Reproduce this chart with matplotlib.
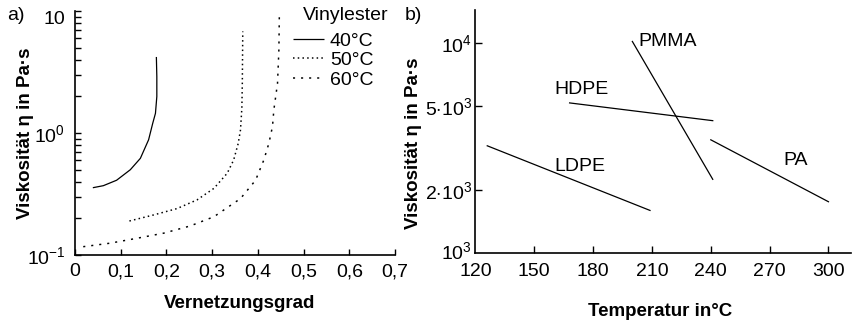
import matplotlib
matplotlib.use("Agg")
import matplotlib.pyplot as plt
import matplotlib.transforms as mtransforms
from matplotlib.ticker import LogLocator, NullFormatter, FixedLocator

plt.rcParams['font.family'] = ['Liberation Sans', 'DejaVu Sans']
plt.rcParams['mathtext.fontset'] = 'custom'
plt.rcParams['mathtext.rm'] = 'Liberation Sans'
plt.rcParams['mathtext.it'] = 'Liberation Sans:italic'
plt.rcParams['mathtext.bf'] = 'Liberation Sans:bold'
plt.rcParams['lines.scale_dashes'] = False

# ---------------- data: panel a) ----------------
x_40 = [0.039, 0.062, 0.091, 0.121, 0.143, 0.161, 0.170, 0.176, 0.179, 0.179, 0.178]
y_40 = [0.356, 0.37, 0.41, 0.50, 0.62, 0.88, 1.2, 1.45, 1.99, 2.9, 4.2]

x_50 = [0.119, 0.172, 0.223, 0.267, 0.304, 0.333, 0.347, 0.357, 0.362, 0.365, 0.366, 0.367]
y_50 = [0.19, 0.213, 0.24, 0.283, 0.352, 0.468, 0.60, 0.82, 1.06, 1.6, 2.55, 6.8]

x_60 = [0.018, 0.077, 0.135, 0.194, 0.252, 0.304, 0.362, 0.395, 0.413, 0.424, 0.432, 0.435, 0.443, 0.446, 0.447]
y_60 = [0.117, 0.125, 0.137, 0.151, 0.173, 0.206, 0.29, 0.41, 0.60, 0.82, 1.13, 1.55, 2.55, 4.8, 9.3]

series_a_labels = ['40°C', '50°C', '60°C']
legend_title = 'Vinylester'
xticks_a = [0, 0.1, 0.2, 0.3, 0.4, 0.5, 0.6, 0.7]
xticklabels_a = ['0', '0,1', '0,2', '0,3', '0,4', '0,5', '0,6', '0,7']
yticks_a = [0.1, 1, 10]
yticklabels_a = [r'$10^{-1}$', r'$10^{0}$', '10']

# ---------------- data: panel b) ----------------
T_pmma = [200, 241]
eta_pmma = [10200, 2250]
T_hdpe = [168, 241]
eta_hdpe = [5200, 4280]
T_ldpe = [126, 209]
eta_ldpe = [3250, 1600]
T_pa = [240, 300]
eta_pa = [3470, 1760]

names_b = ['PMMA', 'HDPE', 'LDPE', 'PA']
name_pos_T = [203, 160, 160, 277]
name_pos_eta = [10140, 6000, 2580, 2780]

xticks_b = [120, 150, 180, 210, 240, 270, 300]
yticks_b = [1000, 2000, 5000, 10000]
yticklabels_b = [r'$10^3$', r'$2{\cdot}10^3$', r'$5{\cdot}10^3$', r'$10^4$']

FS = 14
FSL = 13.5
LW = 0.9

fig = plt.figure(figsize=(8.53, 3.22), dpi=100)

# ---------------- panel a ----------------
ax1 = fig.add_axes([75/853, 1-255/322, 320/853, 244/322])
ax1.plot(x_40, y_40, color='black', lw=LW, solid_capstyle='butt', label=series_a_labels[0])
ax1.plot(x_50, y_50, color='black', lw=LW*1.2, dashes=(1.1, 2.3), label=series_a_labels[1])
ax1.plot(x_60, y_60, color='black', lw=LW*1.2, dashes=(1.5, 4.3), label=series_a_labels[2])
ax1.set_yscale('log')
ax1.set_xlim(0, 0.7)
ax1.set_ylim(0.1, 10)
for s in ['top', 'right']:
    ax1.spines[s].set_visible(False)
for s in ['left', 'bottom']:
    ax1.spines[s].set_linewidth(1.2)
ax1.set_xticks(xticks_a)
ax1.set_xticklabels(xticklabels_a, fontsize=FS)
ax1.yaxis.set_major_locator(FixedLocator(yticks_a))
ax1.set_yticklabels(yticklabels_a, fontsize=FS)
ax1.yaxis.set_minor_locator(LogLocator(base=10, subs=range(2, 10)))
ax1.yaxis.set_minor_formatter(NullFormatter())
ax1.tick_params(axis='both', which='both', direction='in', width=1.0, length=4.5)
ax1.tick_params(axis='y', which='both', pad=7)
ax1.tick_params(axis='x', which='both', pad=6)
for lab in ax1.get_yticklabels():
    if lab.get_text() == '10':
        lab.set_va('top')

leg = ax1.legend(loc='upper left', bbox_to_anchor=(293/853, 1-32/322),
                 bbox_transform=fig.transFigure, frameon=False, fontsize=FS,
                 handlelength=1.6, handletextpad=0.3,
                 labelspacing=0.1, borderpad=0, borderaxespad=0)
fig.text(303/853, 1-15/322, legend_title, fontsize=FS, ha='left', va='center')

fig.text(7/853, 1-15/322, 'a)', fontsize=FS, ha='left', va='center')
fig.text(26/853, 1-133/322, 'Viskosität η in Pa·s', fontsize=FSL, fontweight='bold',
         rotation=90, ha='center', va='center')
fig.text(240/853, 1-304/322, 'Vernetzungsgrad', fontsize=FSL, fontweight='bold',
         ha='center', va='center')

# ---------------- panel b ----------------
ax2 = fig.add_axes([474.5/853, 1-253.3/322, (851-474.5)/853, 243.3/322])
for T, eta in [(T_pmma, eta_pmma), (T_hdpe, eta_hdpe), (T_ldpe, eta_ldpe), (T_pa, eta_pa)]:
    ax2.plot(T, eta, color='black', lw=LW)
ax2.set_yscale('log')
ax2.set_xlim(119.5, 311.5)
ax2.set_ylim(1000, 14400)
for s in ['top', 'right']:
    ax2.spines[s].set_visible(False)
for s in ['left', 'bottom']:
    ax2.spines[s].set_linewidth(1.2)
ax2.xaxis.set_major_locator(FixedLocator(xticks_b))
ax2.xaxis.set_minor_locator(FixedLocator([]))
ax2.set_xticklabels([str(v) for v in xticks_b], fontsize=FS)
ax2.yaxis.set_major_locator(FixedLocator(yticks_b))
ax2.set_yticklabels(yticklabels_b, fontsize=FS)
ax2.yaxis.set_minor_locator(FixedLocator([]))
ax2.yaxis.set_minor_formatter(NullFormatter())
ax2.tick_params(axis='both', which='both', direction='in', width=1.0, length=5)
ax2.tick_params(axis='y', pad=2)
ax2.tick_params(axis='x', pad=7)
ax2.xaxis.get_major_ticks()[0].tick1line.set_visible(False)
ax2.yaxis.get_major_ticks()[0].tick1line.set_visible(False)
lab0 = ax2.get_yticklabels()[0]
lab0.set_va('center_baseline')
lab0.set_transform(lab0.get_transform() +
                   mtransforms.ScaledTranslation(0, 3/100, fig.dpi_scale_trans))

for name, T, eta in zip(names_b, name_pos_T, name_pos_eta):
    ax2.text(T, eta, name, fontsize=FS, ha='left', va='center')

fig.text(405/853, 1-15/322, 'b)', fontsize=FS, ha='left', va='center')
fig.text(414/853, 1-143/322, 'Viskosität η in Pa·s', fontsize=FSL, fontweight='bold',
         rotation=90, ha='center', va='center')
fig.text(660/853, 1-311/322, 'Temperatur in°C', fontsize=FSL, fontweight='bold',
         ha='center', va='center')

fig.savefig('out.png', dpi=100)
